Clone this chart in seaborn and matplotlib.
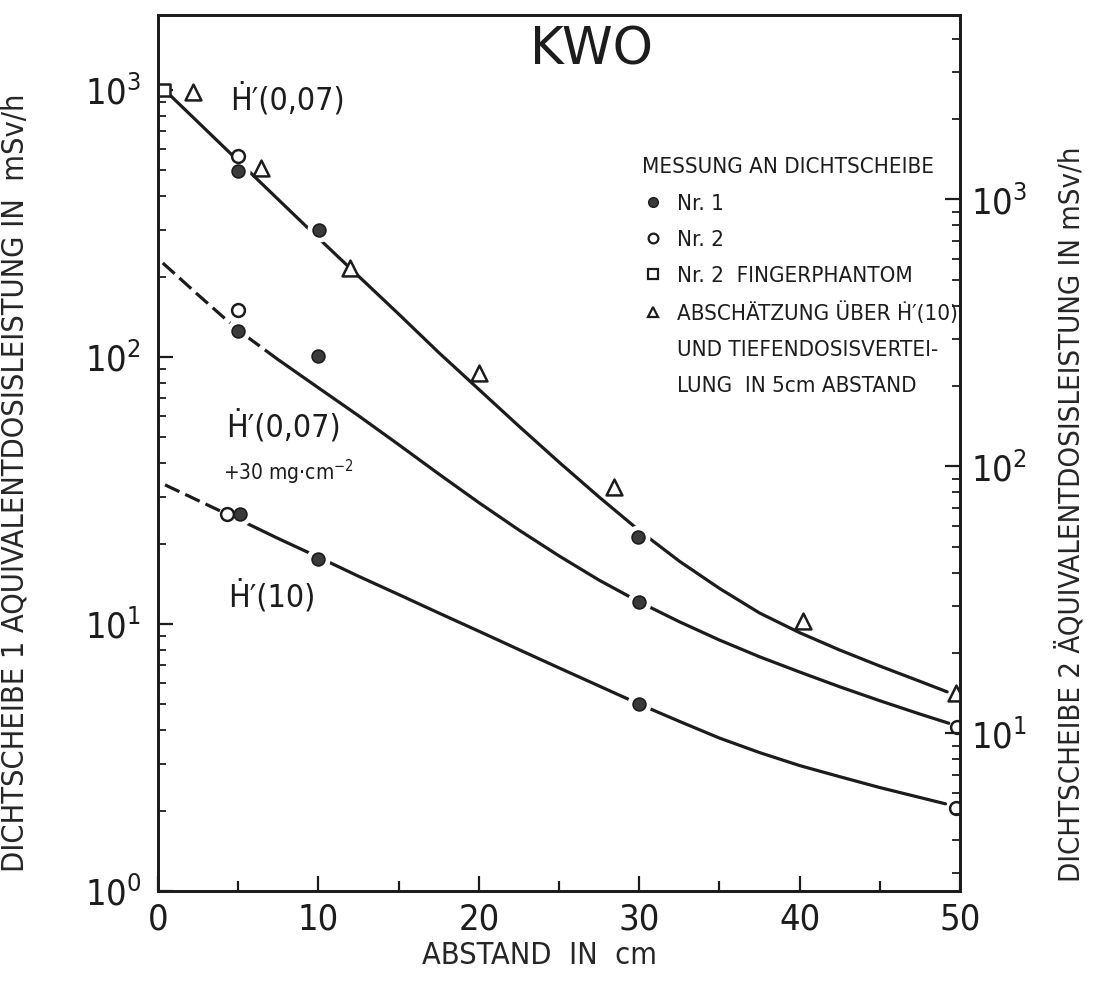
import numpy as np
import pandas as pd
import matplotlib
matplotlib.use("Agg")
import matplotlib.pyplot as plt
import seaborn as sns
from matplotlib.lines import Line2D

# Kurven, Abstand in cm, Dosisleistung in mSv/h (Dichtscheibe 1)
c1_x = [0.75, 2.5, 5, 7.5, 10, 12.5, 15, 17.5, 20, 22.5, 25, 27.5, 30, 32.5, 35, 37.5,
        40, 42.5, 45, 47.5, 49.2]
c1_y = [957, 758, 543, 389, 279, 201, 145, 104, 75.7, 55.1, 40.4, 29.9, 22.4, 17.2, 13.6,
        11.0, 9.28, 7.99, 6.96, 6.10, 5.57]

c2_dash_x = [0.3, 2.5, 5, 7.5]
c2_dash_y = [225, 171, 126, 97.7]
c2_x = [7.5, 10, 12.5, 15, 17.5, 20, 22.5, 25, 27.5, 30, 32.5, 35, 37.5, 40, 42.5, 45,
        47.5, 49.3]
c2_y = [97.7, 76.7, 60.3, 47.0, 36.5, 28.5, 22.5, 18.0, 14.6, 12.1, 10.2, 8.71, 7.54,
        6.61, 5.82, 5.16, 4.60, 4.25]

c3_dash_x = [0.44, 4.3]
c3_dash_y = [33.2, 25.8]
c3_x = [4.3, 5, 7.5, 10, 12.5, 15, 17.5, 20, 22.5, 25, 27.5, 30, 32.5, 35, 37.5, 40,
        42.5, 45, 47.5, 49.1]
c3_y = [25.8, 24.7, 20.9, 17.8, 15.1, 12.9, 11.0, 9.40, 8.02, 6.85, 5.86, 5.01, 4.32,
        3.74, 3.30, 2.95, 2.68, 2.44, 2.24, 2.12]

# Messpunkte
nr1_x = [5, 10.06, 29.9, 5, 10, 30, 5.1, 10, 30]
nr1_y = [497, 299, 21.2, 125, 101, 12.1, 25.8, 17.5, 5.0]
nr2_x = [5, 5, 49.8, 4.3, 49.75]
nr2_y = [566, 150, 4.1, 25.8, 2.05]
finger_x = [0.4]
finger_y = [1000]
est_x = [2.2, 6.4, 12, 20, 28.4, 40.2, 49.75]
est_y = [985, 510, 215, 87, 32.6, 10.3, 5.5]

# Dichtscheibe 2 Achse: Faktor gegenueber Dichtscheibe 1
axis2_factor = 2.57

ink = "#1c1c1c"
sns.set_theme(style="ticks")
plt.rcParams['font.family'] = ['DejaVu Sans']
plt.rcParams['font.stretch'] = 'condensed'
plt.rcParams['text.color'] = ink

fig = plt.figure(figsize=(11, 10.08), dpi=100)
ax = fig.add_axes([0.1436, 0.1161, 0.7291, 0.869])

lw = 2.3
sns.lineplot(x=c1_x, y=c1_y, ax=ax, color=ink, linewidth=lw, estimator=None, sort=False, zorder=2)
sns.lineplot(x=c2_x, y=c2_y, ax=ax, color=ink, linewidth=lw, estimator=None, sort=False, zorder=2)
sns.lineplot(x=c2_dash_x, y=c2_dash_y, ax=ax, color=ink, linewidth=lw, estimator=None, sort=False,
             linestyle=(0, (5, 2)), zorder=2)
sns.lineplot(x=c3_x, y=c3_y, ax=ax, color=ink, linewidth=lw, estimator=None, sort=False, zorder=2)
sns.lineplot(x=c3_dash_x, y=c3_dash_y, ax=ax, color=ink, linewidth=lw, estimator=None, sort=False,
             linestyle=(0, (5, 2)), zorder=2)

# weisser Rand um die vollen Punkte (Linie unterbrochen)
sns.scatterplot(x=nr1_x, y=nr1_y, ax=ax, marker='o', s=300, color='white', linewidth=0, zorder=3)
sns.scatterplot(x=nr1_x, y=nr1_y, ax=ax, marker='o', s=85, color='#3a3a3a', edgecolor=ink,
                linewidth=1.2, zorder=4)
sns.scatterplot(x=nr2_x, y=nr2_y, ax=ax, marker='o', s=85, color='white', edgecolor=ink,
                linewidth=1.8, zorder=4)
sns.scatterplot(x=finger_x, y=finger_y, ax=ax, marker='s', s=80, color='white', edgecolor=ink,
                linewidth=1.8, zorder=4)
sns.scatterplot(x=est_x, y=est_y, ax=ax, marker='^', s=130, color='white', edgecolor=ink,
                linewidth=1.8, zorder=4)

ax.set_yscale('log')
ax.set_xlim(0, 50)
ax.set_ylim(1, 1910)
ax.set_xticks(range(0, 51, 10))
ax.set_xticks([5, 15, 25, 35, 45], minor=True)
ax.tick_params(axis='both', which='major', direction='in', length=11, width=1.6,
               labelsize=26, color=ink, labelcolor=ink)
ax.tick_params(axis='y', which='minor', direction='in', length=6, width=1.3, color=ink)
ax.tick_params(axis='x', which='minor', direction='in', length=7.5, width=1.6, color=ink)
ax.tick_params(axis='y', which='major', pad=12)
ax.tick_params(axis='x', which='major', pad=8)

ax2 = ax.twinx()
ax2.set_yscale('log')
ax2.set_ylim(1 * axis2_factor, 1910 * axis2_factor)
ax2.tick_params(axis='y', which='major', direction='in', length=11, width=1.6,
                labelsize=26, color=ink, labelcolor=ink, pad=8)
ax2.tick_params(axis='y', which='minor', direction='in', length=6, width=1.3, color=ink)

for a in (ax, ax2):
    for sp in a.spines.values():
        sp.set_linewidth(2.0)
        sp.set_color(ink)

ax.set_xlabel("ABSTAND  IN  cm", fontsize=22)
ax.xaxis.set_label_coords(0.476, -0.057)
ax.set_ylabel("DICHTSCHEIBE 1 ÄQUIVALENTDOSISLEISTUNG IN  mSv/h", fontsize=22)
ax.yaxis.set_label_coords(-0.16, 0.466)
ax2.set_ylabel("DICHTSCHEIBE 2 ÄQUIVALENTDOSISLEISTUNG IN mSv/h", fontsize=21, rotation=90)
ax2.yaxis.set_label_coords(1.12, 0.43)

ax.text(0.541, 0.96, "KWO", transform=ax.transAxes, fontsize=37, stretch='normal',
        ha='center', va='center')
ax.text(0.161, 0.903, "Ḣ′(0,07)", transform=ax.transAxes, fontsize=23, ha='center', va='center')
ax.text(0.156, 0.530, "Ḣ′(0,07)", transform=ax.transAxes, fontsize=23, ha='center', va='center')
ax.text(0.162, 0.478, "+30 mg·cm$^{-2}$", transform=ax.transAxes, fontsize=15, ha='center',
        va='center')
ax.text(0.142, 0.336, "Ḣ′(10)", transform=ax.transAxes, fontsize=23, ha='center', va='center')

handles = [
    Line2D([], [], ls='none', marker='o', ms=7, mfc='#3a3a3a', mec=ink),
    Line2D([], [], ls='none', marker='o', ms=7, mfc='white', mec=ink, mew=1.6),
    Line2D([], [], ls='none', marker='s', ms=7, mfc='white', mec=ink, mew=1.6),
    Line2D([], [], ls='none', marker='^', ms=7, mfc='white', mec=ink, mew=1.6),
    Line2D([], [], ls='none'),
    Line2D([], [], ls='none'),
]
labels = ["Nr. 1", "Nr. 2", "Nr. 2  FINGERPHANTOM", "ABSCHÄTZUNG ÜBER Ḣ′(10)",
          "UND TIEFENDOSISVERTEI-", "LUNG  IN 5cm ABSTAND"]
leg = ax2.legend(handles, labels, title="MESSUNG AN DICHTSCHEIBE", loc='upper left',
                 bbox_to_anchor=(0.604, 0.838), frameon=False, fontsize=16, title_fontsize=16,
                 handlelength=1.0, handletextpad=0.55, labelspacing=0.72, alignment='left',
                 borderpad=0, borderaxespad=0)
leg._legend_box.sep = 12

fig.savefig("out.png", dpi=100)
